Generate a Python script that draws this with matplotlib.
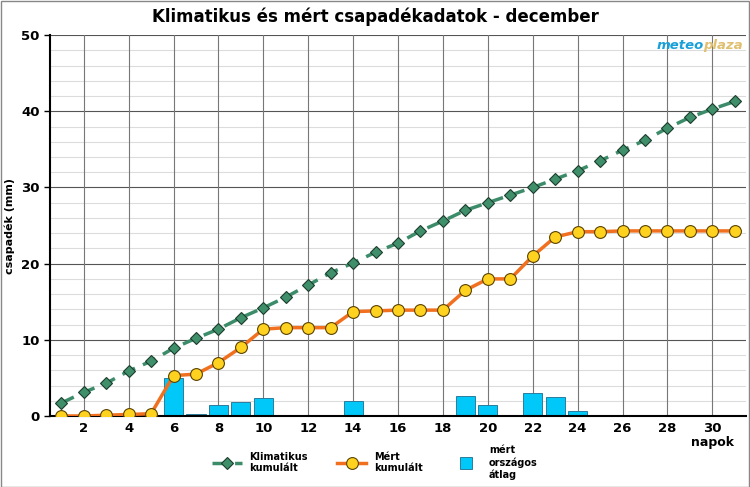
import matplotlib.pyplot as plt
import matplotlib.patches as mpatches
from matplotlib.lines import Line2D

days = list(range(1, 32))
# climatic cumulative precipitation (mm)
klima = [1.7, 3.1, 4.3, 5.9, 7.2, 8.9, 10.2, 11.4, 12.9, 14.2, 15.6, 17.2, 18.8, 20.1, 21.5, 22.7,
         24.3, 25.6, 27.0, 28.0, 29.0, 30.0, 31.1, 32.2, 33.5, 34.9, 36.2, 37.8, 39.2, 40.3, 41.3]
# measured cumulative
mert = [0.0, 0.0, 0.1, 0.2, 0.3, 5.3, 5.5, 7.0, 9.0, 11.4, 11.6, 11.6, 11.6, 13.7, 13.8, 13.9,
        13.9, 13.9, 16.5, 18.0, 18.0, 21.0, 23.5, 24.2, 24.2, 24.3, 24.3, 24.3, 24.3, 24.3, 24.3]
# daily national average
napi = [0, 0, 0, 0, 0, 5.0, 0.2, 1.4, 1.9, 2.4, 0.1, 0, 0, 2.0, 0, 0.05,
        0, 0, 2.6, 1.5, 0, 3.0, 2.5, 0.7, 0.05, 0.05, 0, 0, 0, 0, 0]
xticks = list(range(2, 31, 2))

fig = plt.figure(figsize=(7.5, 4.87), dpi=100)
ax = fig.add_axes([0.0667, 0.1458, 0.928, 0.782])

# grid
for y in range(2, 50, 2):
    if y % 10:
        ax.axhline(y, color='#dcdcdc', lw=0.8, zorder=0)
for y in range(10, 51, 10):
    ax.axhline(y, color='#555555', lw=0.8, zorder=0)
for x in xticks:
    ax.axvline(x, color='#777777', lw=0.8, zorder=0)

ax.bar(days, napi, width=0.85, color='#00c8f8', edgecolor='#2a7c9c', lw=0.7, zorder=2)
ax.plot(days, klima, color='#3c8c6a', lw=2.5, ls=(0, (4, 2.5)), marker='D', ms=6,
        mfc='#3f8f6b', mec='#1c3c2c', mew=0.8, zorder=3)
ax.plot(days, mert, color='#f07020', lw=2.5, marker='o', ms=8.5,
        mfc='#ffd21f', mec='#5a4200', mew=0.8, zorder=4)

ax.set_xlim(0.5, 31.5)
ax.set_ylim(0, 50)
ax.set_xticks(xticks)
ax.set_yticks(range(0, 51, 10))
ax.tick_params(axis='both', labelsize=9.5, length=4, width=1)
ax.tick_params(axis='x', length=0, pad=4)
for lab in ax.get_xticklabels() + ax.get_yticklabels():
    lab.set_fontweight('bold')
ax.spines['top'].set_visible(False)
ax.spines['right'].set_visible(False)
ax.spines['left'].set_linewidth(1.5)
ax.spines['bottom'].set_linewidth(1.5)

ax.set_ylabel('csapadék (mm)', fontsize=8, fontweight='bold')
ax.yaxis.set_label_coords(-0.05, 0.5)
fig.text(0.95, 0.085, 'napok', fontsize=9, fontweight='bold', ha='center')
fig.suptitle('Klimatikus és mért csapadékadatok - december', fontsize=12, fontweight='bold', y=0.985)

# logo
fig.text(0.938, 0.9, 'meteo', color='#1aa0d8', fontsize=9.5, fontweight='bold', style='italic', ha='right')
fig.text(0.938, 0.9, 'plaza', color='#e0c070', fontsize=9.5, fontweight='bold', style='italic', ha='left')

# legend
h1 = Line2D([], [], color='#3c8c6a', lw=2.5, ls=(0, (4, 2.5)), marker='D', ms=6,
            mfc='#3f8f6b', mec='#1c3c2c', mew=0.8)
h2 = Line2D([], [], color='#f07020', lw=2.5, marker='o', ms=8.5, mfc='#ffd21f', mec='#5a4200', mew=0.8)
h3 = Line2D([], [], ls='none', marker='s', ms=8, mfc='#00c8f8', mec='#2a7c9c', mew=0.7)
leg = fig.legend([h1, h2, h3], ['Klimatikus\nkumulált', 'Mért\nkumulált', 'mért\nországos\nátlag'],
                 loc='center', bbox_to_anchor=(0.5, 0.05), ncol=3, frameon=False,
                 prop={'size': 7, 'weight': 'bold'}, columnspacing=3, handlelength=3)

fig.patches.append(mpatches.Rectangle((0.001, 0.001), 0.997, 0.997, transform=fig.transFigure,
                                      fill=False, edgecolor='#888888', lw=1))
fig.savefig('out.png', dpi=100)
